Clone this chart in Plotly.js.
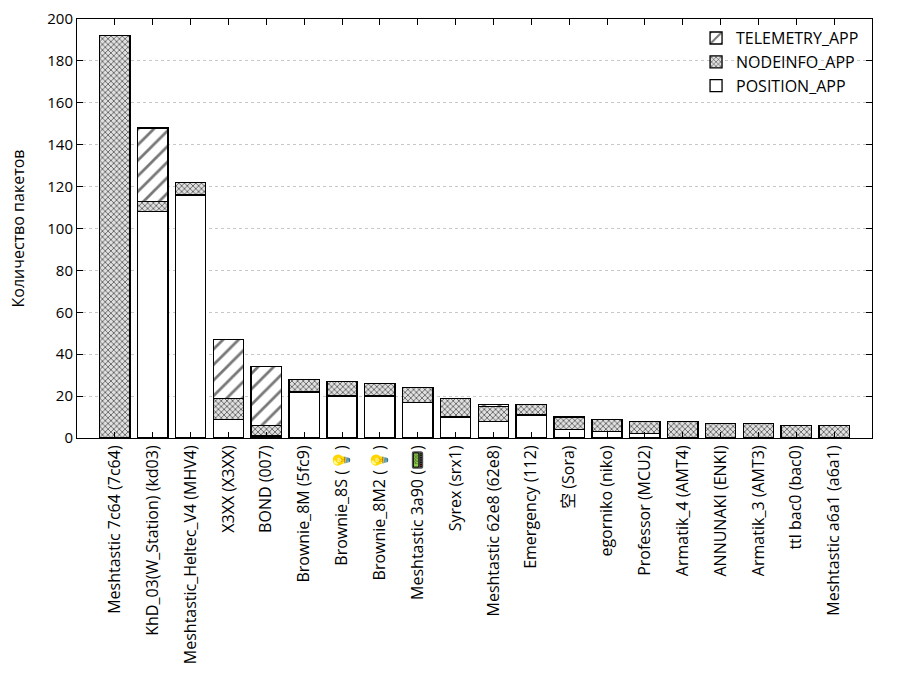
<!DOCTYPE html>
<html>
<head>
<meta charset="utf-8">
<script src="https://cdn.plot.ly/plotly-3.0.1.min.js"></script>
<style>
  html, body { margin: 0; padding: 0; background: #fff; }
  #chart { width: 900px; height: 700px; }
</style>
</head>
<body>
<div id="chart"></div>
<script>
const nodes = [
  "Meshtastic 7c64 (7c64)", "KhD_03(W_Station) (kd03)", "Meshtastic_Heltec_V4 (MHV4)",
  "X3XX (X3XX)", "BOND (007)", "Brownie_8M (5fc9)", "Brownie_8S (💡)", "Brownie_8M2 (💡)",
  "Meshtastic 3a90 (📟)", "Syrex (srx1)", "Meshtastic 62e8 (62e8)", "Emergency (112)",
  "空 (Sora)", "egorniko (niko)", "Professor (MCU2)", "Armatik_4 (AMT4)",
  "ANNUNAKI (ENKI)", "Armatik_3 (AMT3)", "ttl bac0 (bac0)", "Meshtastic a6a1 (a6a1)"
];
const positionApp  = [0, 108, 116, 9, 1, 22, 20, 20, 17, 10, 8, 11, 4, 3, 2, 0, 0, 0, 0, 0];
const nodeinfoApp  = [192, 5, 6, 10, 5, 6, 7, 6, 7, 9, 7, 5, 6, 6, 6, 8, 7, 7, 6, 6];
const telemetryApp = [0, 35, 0, 28, 28, 0, 0, 0, 0, 0, 1, 0, 0, 0, 0, 0, 0, 0, 0, 0];

const FONT = "Open Sans, Noto Sans, Noto Sans CJK SC, sans-serif";
const edge = { color: "#000", width: 1.3 };

function barTrace(name, values, pattern) {
  return {
    type: "bar",
    name: name,
    x: nodes,
    y: values,
    marker: { color: "#fff", line: edge, pattern: pattern },
    hoverinfo: "x+y+name",
  };
}

const data = [
  barTrace("POSITION_APP", positionApp, { shape: "" }),
  barTrace("NODEINFO_APP", nodeinfoApp,
    { shape: "x", fgcolor: "#333", bgcolor: "#e0e0e0", size: 4, solidity: 0.3 }),
  barTrace("TELEMETRY_APP", telemetryApp,
    { shape: "/", fgcolor: "#777", bgcolor: "#fff", size: 11, solidity: 0.25 }),
];

const layout = {
  width: 900,
  height: 700,
  barmode: "stack",
  bargap: 0.2,
  paper_bgcolor: "#fff",
  plot_bgcolor: "#fff",
  font: { family: FONT, size: 15, color: "#000" },
  margin: { l: 77, r: 28, t: 19, b: 262 },
  showlegend: true,
  legend: {
    x: 0.99, xanchor: "right", y: 0.995, yanchor: "top",
    traceorder: "reversed",
    bgcolor: "rgba(255,255,255,0)",
    font: { size: 16 },
    tracegroupgap: 0,
    itemwidth: 30,
  },
  xaxis: {
    type: "category",
    range: [-1, nodes.length],
    tickangle: -90,
    ticks: "inside",
    ticklen: 6,
    tickcolor: "#000",
    showgrid: false,
    showline: true,
    linecolor: "#000",
    linewidth: 1,
    mirror: "allticks",
    tickfont: { size: 16 },
    fixedrange: true,
  },
  yaxis: {
    range: [0, 200],
    dtick: 20,
    ticks: "inside",
    ticklen: 6,
    tickcolor: "#000",
    showline: true,
    linecolor: "#000",
    linewidth: 1,
    mirror: "allticks",
    showgrid: true,
    gridcolor: "#c8c8c8",
    griddash: "dot",
    gridwidth: 1,
    zeroline: false,
    tickfont: { size: 15 },
    title: { text: "Количество пакетов", font: { size: 16 }, standoff: 18 },
  },
};

Plotly.newPlot("chart", data, layout, { staticPlot: true });
</script>
</body>
</html>
